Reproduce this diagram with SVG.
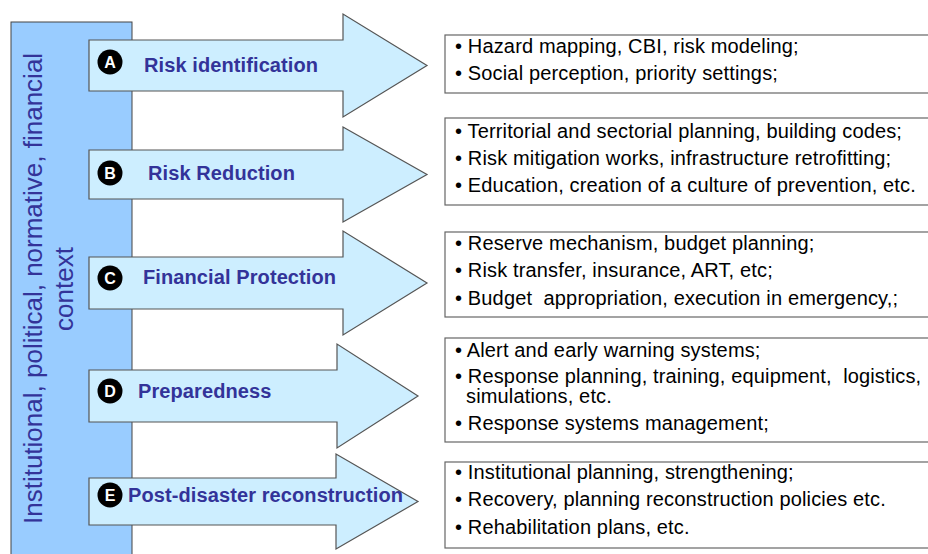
<svg xmlns="http://www.w3.org/2000/svg" width="928" height="554" viewBox="0 0 928 554">
  <style>
    .ctx { fill: #99ccff; stroke: #444; stroke-width: 1; }
    .arrow { fill: #cdeeff; stroke: #555; stroke-width: 1.2; stroke-linejoin: miter; }
    .label { font-family: "Liberation Sans", Arial, sans-serif; font-weight: bold; font-size: 20px; fill: #333399; letter-spacing: 0.1px; }
    .badge { fill: #000; }
    .badge-t { font-family: "Liberation Sans", Arial, sans-serif; font-weight: bold; font-size: 16px; fill: #fff; text-anchor: middle; }
    .box { fill: #fff; stroke: #666; stroke-width: 1.2; }
    .item { font-family: "Liberation Sans", Arial, sans-serif; font-size: 20px; fill: #000; letter-spacing: 0.15px; white-space: pre; }
    .vert { font-family: "Liberation Sans", Arial, sans-serif; font-size: 26px; fill: #333399; }
  </style>
  <rect width="928" height="554" fill="#fff"/>

  <!-- context bar -->
  <g id="context">
    <rect class="ctx" x="11" y="22" width="121" height="540"/>
    <text class="vert" transform="translate(42,524) rotate(-90)">Institutional, political, normative, financial</text>
    <text class="vert" text-anchor="middle" transform="translate(73,289) rotate(-90)">context</text>
  </g>

  <g id="connectors"></g>

  <!-- A -->
  <g id="risk-identification">
    <polygon class="arrow" points="89,40 343,40 343,14 427,65.5 343,117 343,91 89,91"/>
    <circle class="badge" cx="110" cy="62" r="12.5"/>
    <text class="badge-t" x="110" y="67.5">A</text>
    <text class="label" x="144" y="72">Risk identification</text>
  </g>
  <g id="box-a">
    <rect class="box" x="445" y="35" width="500" height="58"/>
    <text class="item" x="455" y="53">• Hazard mapping, CBI, risk modeling;</text>
    <text class="item" x="455" y="80">• Social perception, priority settings;</text>
  </g>

  <!-- B -->
  <g id="risk-reduction">
    <polygon class="arrow" points="89,150 343,150 343,127 427,174.5 343,222 343,199 89,199"/>
    <circle class="badge" cx="110" cy="173" r="12.5"/>
    <text class="badge-t" x="110" y="178.5">B</text>
    <text class="label" x="148" y="180">Risk Reduction</text>
  </g>
  <g id="box-b">
    <rect class="box" x="445" y="118" width="500" height="87"/>
    <text class="item" x="455" y="138">• Territorial and sectorial planning, building codes;</text>
    <text class="item" x="455" y="165">• Risk mitigation works, infrastructure retrofitting;</text>
    <text class="item" x="455" y="192">• Education, creation of a culture of prevention, etc.</text>
  </g>

  <!-- C -->
  <g id="financial-protection">
    <polygon class="arrow" points="89,257 343,257 343,231 427,283 343,335 343,309 89,309"/>
    <circle class="badge" cx="110" cy="278" r="12.5"/>
    <text class="badge-t" x="110" y="283.5">C</text>
    <text class="label" x="143" y="284">Financial Protection</text>
  </g>
  <g id="box-c">
    <rect class="box" x="445" y="232" width="500" height="85"/>
    <text class="item" x="455" y="250">• Reserve mechanism, budget planning;</text>
    <text class="item" x="455" y="277">• Risk transfer, insurance, ART, etc;</text>
    <text class="item" x="455" y="305">• Budget  appropriation, execution in emergency,;</text>
  </g>

  <!-- D -->
  <g id="preparedness">
    <polygon class="arrow" points="89,370 337,370 337,344 418,396 337,448 337,422 89,422"/>
    <circle class="badge" cx="110" cy="391" r="12.5"/>
    <text class="badge-t" x="110" y="396.5">D</text>
    <text class="label" x="138" y="398">Preparedness</text>
  </g>
  <g id="box-d">
    <rect class="box" x="445" y="338" width="500" height="104"/>
    <text class="item" x="455" y="357">• Alert and early warning systems;</text>
    <text class="item" x="455" y="383">• Response planning, training, equipment,  logistics,</text>
    <text class="item" x="466" y="403">simulations, etc.</text>
    <text class="item" x="455" y="430">• Response systems management;</text>
  </g>

  <!-- E -->
  <g id="post-disaster-reconstruction">
    <polygon class="arrow" points="89,478 336,478 336,454 418,501.5 336,549 336,525 89,525"/>
    <circle class="badge" cx="110" cy="495" r="12.5"/>
    <text class="badge-t" x="110" y="500.5">E</text>
    <text class="label" x="128" y="502">Post-disaster reconstruction</text>
  </g>
  <g id="box-e">
    <rect class="box" x="445" y="462" width="500" height="86"/>
    <text class="item" x="455" y="479">• Institutional planning, strengthening;</text>
    <text class="item" x="455" y="506">• Recovery, planning reconstruction policies etc.</text>
    <text class="item" x="455" y="534">• Rehabilitation plans, etc.</text>
  </g>
</svg>
